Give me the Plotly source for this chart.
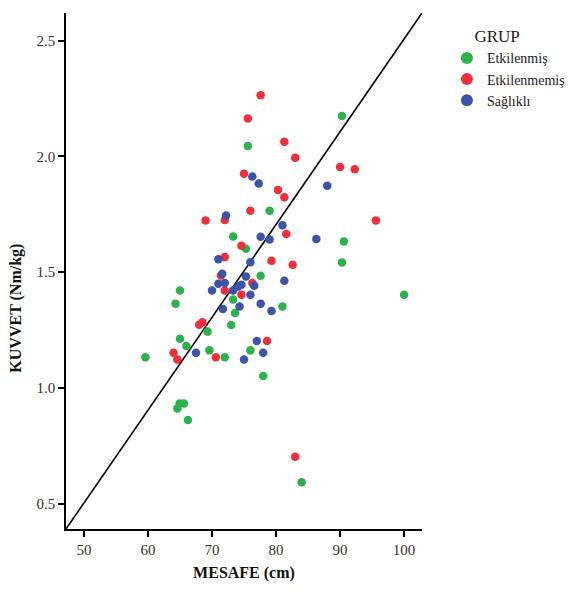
import plotly.graph_objects as go

# ---- data ----
groups = ["Etkilenmiş", "Etkilenmemiş", "Sağlıklı"]

etkilenmis_x = [90.3, 75.6, 79.0, 73.3, 90.6, 75.3, 90.3, 100.0, 77.6, 65.0, 64.3, 73.3, 73.6, 73.0,
                81.0, 69.3, 65.0, 66.0, 69.6, 72.0, 59.6, 76.0, 78.0, 64.95, 65.6, 64.6, 66.25, 84.0]
etkilenmis_y = [2.175, 2.045, 1.765, 1.654, 1.633, 1.601, 1.542, 1.402, 1.484, 1.421, 1.364, 1.382, 1.323, 1.272,
                1.352, 1.243, 1.212, 1.181, 1.162, 1.132, 1.132, 1.162, 1.051, 0.932, 0.932, 0.911, 0.861, 0.592]

etkilenmemis_x = [77.6, 75.6, 81.3, 83.0, 75.0, 90.0, 92.3, 80.3, 81.3, 76.0, 72.0, 69.0, 95.6, 81.6, 74.6,
                  72.0, 79.3, 82.6, 71.4, 76.3, 72.0, 74.6, 68.0, 68.5, 64.0, 64.6, 70.6, 78.6, 83.0]
etkilenmemis_y = [2.265, 2.164, 2.064, 1.994, 1.925, 1.954, 1.945, 1.855, 1.824, 1.765, 1.725, 1.723, 1.723, 1.665, 1.614,
                  1.565, 1.549, 1.532, 1.486, 1.453, 1.421, 1.402, 1.273, 1.283, 1.152, 1.123, 1.132, 1.202, 0.702]

saglikli_x = [76.3, 77.3, 88.0, 72.2, 81.0, 77.6, 79.0, 86.3, 71.0, 76.0, 71.6, 75.3, 71.0, 72.0, 74.6,
              74.1, 73.3, 70.0, 76.6, 76.0, 74.3, 71.7, 77.6, 79.3, 81.3, 77.0, 78.0, 75.0, 67.5]
saglikli_y = [1.913, 1.883, 1.873, 1.745, 1.703, 1.653, 1.641, 1.643, 1.556, 1.543, 1.493, 1.481, 1.45, 1.453, 1.446,
              1.438, 1.421, 1.421, 1.441, 1.402, 1.352, 1.341, 1.364, 1.332, 1.463, 1.202, 1.152, 1.123, 1.152]

x_ticks = [50, 60, 70, 80, 90, 100]
y_ticks = [0.5, 1.0, 1.5, 2.0, 2.5]
x_range = [47.2, 102.8]
y_range = [0.39, 2.62]

colors = ["#2bb24c", "#ec2f3b", "#3b54a6"]
serif = "Liberation Serif"

fig = go.Figure()

# reference line across the plot (corner to corner)
fig.add_trace(go.Scatter(x=x_range, y=y_range, mode="lines",
                         line=dict(color="black", width=1.6),
                         showlegend=False, hoverinfo="skip"))

for name, xs, ys, c in zip(groups,
                           [etkilenmis_x, etkilenmemis_x, saglikli_x],
                           [etkilenmis_y, etkilenmemis_y, saglikli_y],
                           colors):
    fig.add_trace(go.Scatter(x=xs, y=ys, mode="markers", name=name,
                             marker=dict(color=c, size=8.5, line=dict(width=0))))

fig.update_layout(
    width=567, height=592,
    margin=dict(l=58, r=153, t=5, b=71, autoexpand=False),
    plot_bgcolor="white", paper_bgcolor="white",
    font=dict(family=serif, color="#333333"),
    showlegend=True,
    legend=dict(x=1.07, y=0.986, xanchor="left", yanchor="top",
                font=dict(family=serif, size=14, color="#222222"),
                title=dict(text="\u00a0" * 6 + "GRUP", side="top",
                           font=dict(family=serif, size=17, color="#222222")),
                tracegroupgap=0, itemsizing="constant",
                bgcolor="rgba(0,0,0,0)"),
    annotations=[dict(text="<b>KUVVET (Nm/kg)</b>", textangle=-90,
                      xref="paper", yref="paper", x=0, y=0.428,
                      xanchor="center", yanchor="middle", xshift=-49.5,
                      showarrow=False,
                      font=dict(family=serif, size=16, color="#111111"))],
)

fig.update_xaxes(range=x_range, tickvals=x_ticks, ticktext=[str(v) for v in x_ticks],
                 showline=True, linecolor="black", linewidth=1.6,
                 ticks="outside", ticklen=6, tickcolor="black", tickwidth=1.5,
                 showgrid=False, zeroline=False,
                 tickfont=dict(family=serif, size=15, color="#333333"),
                 title=dict(text="<b>MESAFE (cm)</b>", standoff=10,
                            font=dict(family=serif, size=16, color="#111111")))
fig.update_yaxes(range=y_range, tickvals=y_ticks, ticktext=[f"{v:.1f}" for v in y_ticks],
                 showline=True, linecolor="black", linewidth=1.6,
                 ticks="outside", ticklen=6, tickcolor="black", tickwidth=1.5,
                 showgrid=False, zeroline=False,
                 tickfont=dict(family=serif, size=15, color="#333333"))

fig.write_html("out.html")
